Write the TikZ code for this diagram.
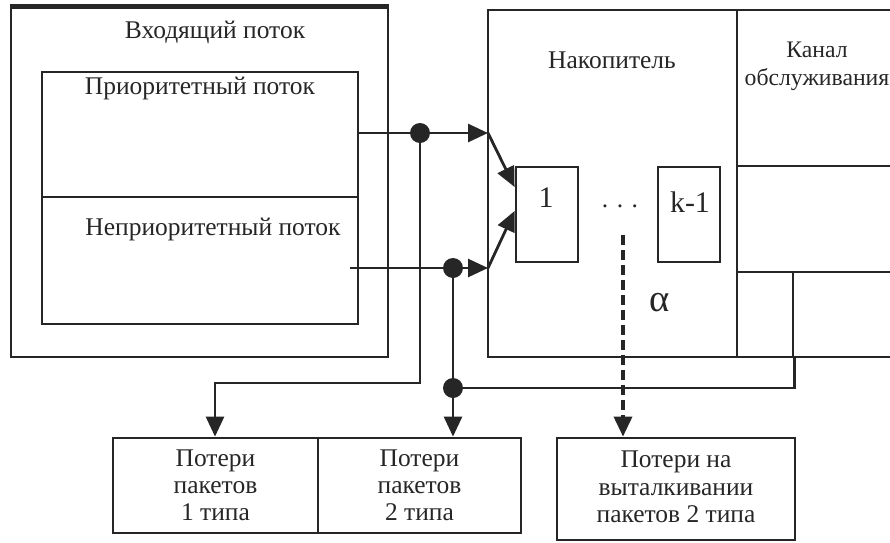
\documentclass[tikz,border=0pt]{standalone}
\usepackage{fontspec}
\setmainfont{Liberation Serif}
\usetikzlibrary{arrows.meta,fit}

\begin{document}
\begin{tikzpicture}[x=0.02cm,y=-0.02cm, black!85,
    box/.style={draw, line width=1.6pt, inner sep=0pt},
    lbl/.style={font=\fontsize{14.5}{15.5}\selectfont, align=center},
    wire/.style={line width=1.6pt},
    tip/.style={-{Triangle[length=4mm,width=3.6mm]}},
    dot/.style={circle, fill, inner sep=0pt, minimum size=4mm}]
    \clip (0,0) rectangle (890,542);
    % source of packets
    \node[box, fit={(11,8) (388,357)}] (in) {};
    \draw[line width=3pt] (in.north west) -- (in.north east);
    \node[lbl] (inlbl) at (215,32) {Входящий поток};
    \node[box, fit={(42,72) (358,197)}] (prio) {};
    \node[box, fit={(42,197) (358,324)}] (nprio) {};
    \node[lbl] (priolbl) at (200,88) {Приоритетный поток};
    \node[lbl] (npriolbl) at (213,229) {Неприоритетный поток};
    % buffer and server
    \node[box, fit={(488,10) (737,357)}] (buf) {};
    \node[lbl] (buflbl) at (612,60) {Накопитель};
    \node[box, fit={(737,10) (900,166)}] (ch1) {};
    \node[box, fit={(737,166) (900,272)}] (ch2) {};
    \node[box, fit={(737,272) (793,357)}] (ch3) {};
    \node[box, fit={(793,272) (900,357)}] (ch4) {};
    \node[lbl, font=\fontsize{13.5}{16}\selectfont] (chlbl) at (817,66) {Канал\\обслуживания};
    \node[box, fit={(516,167) (578,262)}] (c1) {};
    \node[box, fit={(658,167) (720,262)}] (ck) {};
    \node[lbl, font=\fontsize{17}{18}\selectfont] (c1lbl) at (546,198) {1};
    \node[lbl, font=\fontsize{17}{18}\selectfont] (cklbl) at (690,202) {k-1};
    \node[lbl] (dots) at (620,206) {. . .};
    \node[lbl, font=\fontsize{22}{22}\selectfont] (alpha) at (660,303) {α};
    % losses
    \node[box, fit={(113,438) (318,533)}] (l1) {};
    \node[box, fit={(318,438) (521,533)}] (l2) {};
    \node[box, fit={(557,438) (795,540)}] (l3) {};
    \node[lbl] (l1lbl) at (l1) {Потери\\пакетов\\1 типа};
    \node[lbl] (l2lbl) at (l2) {Потери\\пакетов\\2 типа};
    \node[lbl] (l3lbl) at (676,487) {Потери на\\выталкивании\\пакетов 2 типа};
    % junctions
    \node[dot] (d1) at (420,133) {};
    \node[dot] (d2) at (453,268) {};
    \node[dot] (d3) at (453,388) {};
    \coordinate (a1) at (488,133);
    \coordinate (a2) at (488,268);
    \coordinate (s2) at (350,268);
    \coordinate (q) at (623,235);
    % connectors
    \draw[wire] (prio.east |- d1) -- (d1);
    \draw[wire, tip] (d1) -- (a1);
    \draw[wire, tip] (a1) -- (c1.west |- 0,187);
    \draw[wire] (s2) -- (d2);
    \draw[wire, tip] (d2) -- (a2);
    \draw[wire, tip] (a2) -- (c1.west |- 0,211);
    \draw[wire, tip] (d1) |- (215,383) -- (l1.north -| 215,0);
    \draw[wire] (d2) -- (d3);
    \draw[wire, tip] (d3) -- (l2.north -| d3);
    \draw[wire] (ch3.south east) |- (d3);
    \draw[wire, tip, line width=2pt, dash pattern=on 0.2cm off 0.1cm] (q) -- (l3.north -| q);
\end{tikzpicture}
\end{document}
